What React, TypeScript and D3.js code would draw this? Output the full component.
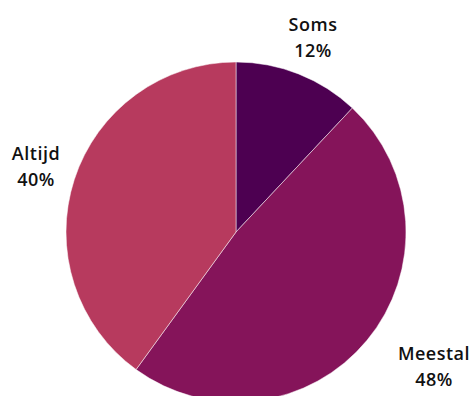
import React from "react";
import * as d3 from "d3";

const categories = ["Soms", "Meestal", "Altijd"];
const values = [12, 48, 40];
const colors = ["#4d0051", "#85145a", "#b73a5e"];
const labelPos = [
  [313, 31],
  [434, 360],
  [36, 160],
];

export default function App() {
  const W = 471, H = 396;
  const cx = 236, cy = 232, r = 170;
  const pie = d3.pie<number>().sort(null).value((d) => d)(values);
  const arc = d3.arc<d3.PieArcDatum<number>>().innerRadius(0).outerRadius(r);
  return (
    <svg width={W} height={H} style={{ position: "absolute", left: 0, top: 0 }}>
      <g transform={`translate(${cx},${cy})`}>
        {pie.map((p, i) => (
          <path key={i} d={arc(p) || ""} fill={colors[i]} stroke="#fff" strokeWidth={0.5} />
        ))}
      </g>
      {categories.map((c, i) => (
        <text
          key={c}
          x={labelPos[i][0]}
          y={labelPos[i][1]}
          textAnchor="middle"
          fontFamily="'Open Sans', sans-serif"
          fontWeight={600}
          fontSize={18}
          letterSpacing={0.5}
          fill="#111"
        >
          <tspan x={labelPos[i][0]}>{c}</tspan>
          <tspan x={labelPos[i][0]} dy={26}>{values[i]}%</tspan>
        </text>
      ))}
    </svg>
  );
}
